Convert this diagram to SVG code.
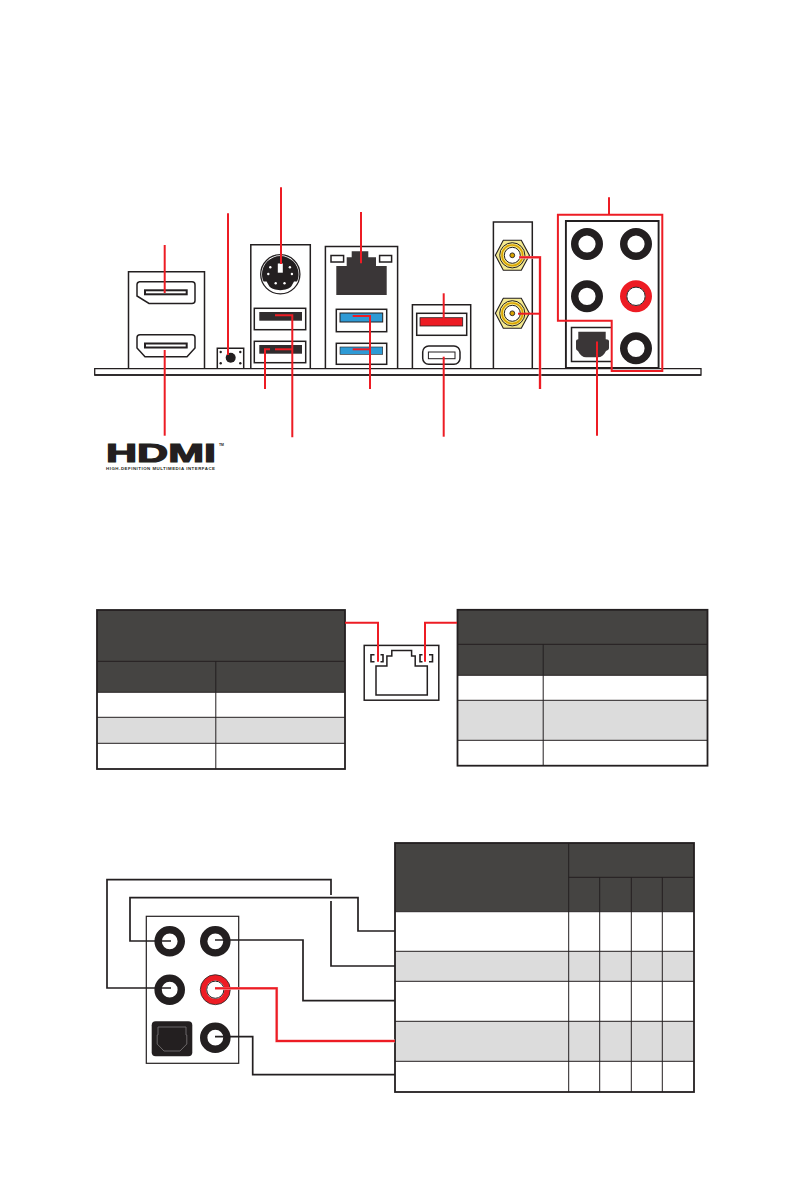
<svg xmlns="http://www.w3.org/2000/svg" width="794" height="1191" viewBox="0 0 794 1191">
<style>
.k{fill:none;stroke:#231f20;stroke-width:1.5}
.kf{fill:#fff;stroke:#231f20;stroke-width:1.5}
.slot{fill:#302c2d;stroke:none}
.r{fill:none;stroke:#ed1c24;stroke-width:2}
.rh{fill:none;stroke:#f6a6a8;stroke-width:2.8}
.c{fill:none;stroke:#231f20;stroke-width:1.7}
.hd{fill:#454442}
.gr{fill:#dcdcdc}
.ln{stroke:#231f20;stroke-width:1;fill:none}
.bd{fill:none;stroke:#231f20;stroke-width:1.8}
.hx{fill:#f3e98f;stroke:#231f20;stroke-width:1.1}
.gold{fill:none;stroke:#d9a400;stroke-width:1.7}
.pin{fill:#fff}
</style>
<rect width="794" height="1191" fill="#fff"/>

<g id="io-panel">
<path d="M94.7 368.6H701V375H94.7Z" fill="#fff" stroke="#231f20" stroke-width="1.3"/>
<path d="M94.7 375H701" stroke="#231f20" stroke-width="1.6" fill="none"/>
</g>

<g id="hdmi-dp">
<path class="k" d="M128.5 368V271.8H204.5V368"/>
<path class="k" d="M139.5 281.8H192a3 3 0 0 1 3 3V300.5a3 3 0 0 1-3 3H149L137 296V284.5a3 3 0 0 1 2.5-2.7Z"/>
<rect x="145" y="290.3" width="41.7" height="4" fill="#fff" stroke="#231f20" stroke-width="2"/>
<path class="k" d="M140 334.7H192a3 3 0 0 1 3 3V348L187 356.7H145L137 348V337.7a3 3 0 0 1 3-3Z"/>
<rect x="145" y="343.5" width="41.7" height="4" fill="#fff" stroke="#231f20" stroke-width="2"/>
</g>

<g id="clear-cmos">
<path class="k" d="M217.3 368V348.3H243.7V368" stroke-width="1"/>
<circle cx="230.7" cy="357.7" r="5" fill="#231f20"/>
<g fill="#231f20"><circle cx="220.7" cy="352" r="1.2"/><circle cx="240.3" cy="352" r="1.2"/><circle cx="220.7" cy="363.3" r="1.2"/><circle cx="240.3" cy="363.3" r="1.2"/></g>
</g>

<g id="ps2-usb">
<path class="k" d="M250.8 368V244.8H310.3V368"/>
<circle cx="280.3" cy="274.3" r="19.6" fill="#fff" stroke="#231f20" stroke-width="1.3"/>
<path d="M262 274.3A18 18 0 0 1 298.6 274.3C298.6 277 298 279.5 297 281.6L294 281.5L291.5 286C288 291.5 272.6 291.5 269.1 286L266.6 281.5L263.6 281.6C262.6 279.5 262 277 262 274.3Z" fill="#231f20"/>
<g class="pin"><circle cx="270.3" cy="267.3" r="1.2"/><circle cx="289.9" cy="267.3" r="1.2"/><circle cx="268.3" cy="274" r="1.2"/><circle cx="291.9" cy="274" r="1.2"/><circle cx="275.7" cy="283.3" r="1.2"/><circle cx="284.5" cy="283.3" r="1.2"/><rect x="277.8" y="263.5" width="5" height="9.2"/></g>
<rect class="kf" x="254.3" y="308.3" width="51.4" height="21.4"/>
<rect class="slot" x="259.3" y="312" width="42.7" height="8.7"/>
<rect class="kf" x="254.3" y="341.3" width="51.4" height="21.4"/>
<rect class="slot" x="259.3" y="345" width="42.7" height="8.7"/>
</g>

<g id="lan-usb3">
<path class="k" d="M325.4 368V246.4H397.6V368"/>
<path d="M336.3 295V266H346.7V257.3H351.7V251.3H368.3V257.3H376V266H386.7V295Z" fill="#3a3637"/>
<rect class="kf" x="331" y="255.5" width="12.6" height="6.5" stroke-width="1.2"/>
<rect class="kf" x="379.6" y="255.5" width="12" height="6.5" stroke-width="1.2"/>
<rect class="kf" x="336.3" y="309.3" width="50.4" height="22.4"/>
<rect x="340" y="313" width="42.7" height="9" fill="#2e9ad5" stroke="#231f20" stroke-width="1"/>
<rect class="kf" x="336.3" y="343.3" width="50.4" height="21" stroke-width="1.2"/>
<rect x="340" y="347" width="42.7" height="7.3" fill="#2e9ad5" stroke="#231f20" stroke-width=".6"/>
</g>

<g id="usb-a-c">
<path class="k" d="M412.4 368V304.8H470.7V368"/>
<rect class="kf" x="416.7" y="313.3" width="50" height="22"/>
<rect x="420" y="317.7" width="42.7" height="8.3" fill="#ed1c24" stroke="#231f20" stroke-width=".8"/>
<rect class="kf" x="422.7" y="346" width="37.3" height="18.3" rx="6"/>
<rect x="428.4" y="352" width="26.6" height="6.7" fill="#fff" stroke="#231f20" stroke-width="1"/>
</g>

<g id="antenna">
<path class="k" d="M493.4 368V222H532.3V368"/>
<g id="ant1"><path class="hx" d="M495.4 255.3L503.3 240.3H521.3L529.4 255.3L521.3 270.3H503.3Z"/><circle cx="512.3" cy="255.3" r="12.6" fill="#f3e98f" stroke="#231f20" stroke-width="1"/><circle class="gold" cx="512.3" cy="255.3" r="10.3"/><circle cx="512.3" cy="255.3" r="8" fill="#fff" stroke="#231f20" stroke-width="1"/><circle cx="512.3" cy="255.3" r="2.4" fill="#d9a400" stroke="#231f20" stroke-width=".9"/></g>
<g id="ant2"><path class="hx" d="M495.4 313.3L503.3 298.3H521.3L529.4 313.3L521.3 328.3H503.3Z"/><circle cx="512.3" cy="313.3" r="12.6" fill="#f3e98f" stroke="#231f20" stroke-width="1"/><circle class="gold" cx="512.3" cy="313.3" r="10.3"/><circle cx="512.3" cy="313.3" r="8" fill="#fff" stroke="#231f20" stroke-width="1"/><circle cx="512.3" cy="313.3" r="2.4" fill="#d9a400" stroke="#231f20" stroke-width=".9"/></g>
</g>

<g id="audio-panel">
<path d="M565.9 368V221H658.6V368Z" fill="none" stroke="#231f20" stroke-width="1.9"/>
<path class="k" d="M611.5 327.6H571.5V361.5H611.5" stroke-width="1.2"/>
<path d="M578.3 331.7H605.7V339.3C608 339.3 609 340 609 341.5V348C609 350 607 350 606 351C604 355 601 357.3 598 357.3H586C583 357.3 580 355 578 351C577 350 576 350 576 348V341.5C576 340 577 339.3 578.3 339.3Z" fill="#3a3637"/>
<g fill="#fff" stroke="#231f20" stroke-width="7.4">
<circle cx="587" cy="244" r="12.3"/><circle cx="636" cy="244" r="12.3"/><circle cx="587" cy="296.3" r="12.3"/><circle cx="636" cy="348.3" r="12.3"/>
</g>
<circle cx="636" cy="296.3" r="12.7" fill="#fff" stroke="#ed1c24" stroke-width="6.6"/>
<circle cx="636" cy="296.3" r="9.2" fill="#fff" stroke="#231f20" stroke-width="1"/>
</g>

<g id="hdmi-logo" fill="#231f20" font-family="'Liberation Sans',sans-serif" font-weight="700">
<text x="106" y="461.6" font-size="26.5" textLength="110" lengthAdjust="spacingAndGlyphs" stroke="#231f20" stroke-width="1.2">HDMI</text>
<text x="106" y="470" font-size="4.4" textLength="109" lengthAdjust="spacing">HIGH-DEFINITION MULTIMEDIA INTERFACE</text>
<text x="219" y="446" font-size="3.6" textLength="5" lengthAdjust="spacingAndGlyphs">TM</text>
</g>

<g id="lan-port">
<rect x="364.2" y="645.4" width="74.6" height="54.8" fill="#fff" stroke="#231f20" stroke-width="1.5"/>
<path d="M376 695V666H386.9V656H391.8V650.4H411.6V656H415.2V666H427.3V695Z" fill="#fff" stroke="#231f20" stroke-width="1.5"/>
<path d="M374.5 654.8H371V661.8H374.5M380.5 654.8H383V661.8H380.5" fill="none" stroke="#231f20" stroke-width="1.6"/>
<path d="M429 654.8H432.5V661.8H429M422.5 654.8H420V661.8H422.5" fill="none" stroke="#231f20" stroke-width="1.6"/>
</g>

<g id="led-table-left">
<rect class="hd" x="97" y="610" width="248" height="82"/>
<rect x="97" y="692" width="248" height="77" fill="#fff"/>
<rect class="gr" x="97" y="717.3" width="248" height="26"/>
<path class="ln" d="M97 661.3H345M97 692.3H345M97 717.3H345M97 743.3H345M215.8 661.3V769"/>
<rect class="bd" x="97" y="610" width="248" height="159"/>
</g>

<g id="led-table-right">
<rect class="hd" x="457.5" y="609.8" width="250" height="65.5"/>
<rect x="457.5" y="675.3" width="250" height="90.4" fill="#fff"/>
<rect class="gr" x="457.5" y="700.3" width="250" height="40"/>
<path class="ln" d="M457.5 644.3H707.5M457.5 675.3H707.5M457.5 700.3H707.5M457.5 740.3H707.5M543.2 644.3V765.7"/>
<rect class="bd" x="457.5" y="609.8" width="250" height="155.9"/>
</g>

<g id="audio-diagram">
<rect x="146.3" y="916.3" width="92.4" height="147" fill="#fff" stroke="#231f20" stroke-width="1.2"/>
<g fill="#fff" stroke="#231f20" stroke-width="7.4">
<circle cx="169.7" cy="941.3" r="11.6"/><circle cx="215.3" cy="941.3" r="11.6"/><circle cx="169.7" cy="989.7" r="11.6"/><circle cx="215.3" cy="1037.7" r="11.6"/>
</g>
<circle cx="215.3" cy="989.7" r="12" fill="#fff" stroke="#ed1c24" stroke-width="5.8"/>
<circle cx="215.3" cy="989.7" r="15" fill="none" stroke="#231f20" stroke-width=".8"/>
<circle cx="215.3" cy="989.7" r="8.6" fill="#fff" stroke="#231f20" stroke-width="1"/>
<rect x="151.7" y="1021.3" width="40.6" height="35" rx="4" fill="#231f20"/>
<path d="M158 1027H186V1035H186.8V1044L180 1051H164L157.2 1044V1035H158Z" fill="none" stroke="#6b6768" stroke-width="1"/>
</g>

<g id="audio-table">
<rect class="hd" x="395" y="843" width="299" height="68.7"/>
<rect x="395" y="911.7" width="299" height="180.3" fill="#fff"/>
<rect class="gr" x="395" y="951.3" width="299" height="30"/>
<rect class="gr" x="395" y="1021.3" width="299" height="40"/>
<path class="ln" d="M395 911.7H694M395 951.3H694M395 981.3H694M395 1021.3H694M395 1061.3H694M568.7 877.3H694M568.7 843V1092M599.7 877.3V1092M631.3 877.3V1092M662.3 877.3V1092"/>
<rect class="bd" x="395" y="843" width="299" height="249"/>
</g>

<g id="connectors">
<path class="r" d="M164.7 245V293"/>
<path class="r" d="M164.7 350V435.7"/>
<path class="r" d="M228 213.3V355"/>
<path class="r" d="M281 187.3V264"/>
<path class="r" d="M275 315.3H292.3V437.3"/>
<path class="r" d="M275 349.3H292.3"/>
<path class="r" d="M270 349.3H265V389"/>
<path class="r" d="M361 212V263.3"/>
<path class="r" d="M352.7 316H370V389"/>
<path class="r" d="M352.7 349.3H370"/>
<path class="r" d="M443.7 293.3V325"/>
<path class="r" d="M443.7 356.7V436.7"/>
<path class="rh" d="M519.3 257.3H540V389" stroke-width="2.8"/>
<path class="r" d="M519.3 257.3H540V389"/>
<path class="r" d="M518 313.7H540"/>
<path class="r" d="M609 197.3V214.7"/>
<path class="r" d="M557.9 214.8H662.3V371H611.7V320.7H557.9Z"/>
<path class="r" d="M597 341.5V435.7"/>
<path class="r" d="M345 622.7H378V661.7"/>
<path class="r" d="M457 622.7H425V661.7"/>
<path class="c" d="M171 988H107V879.7H331V966H395"/>
<path d="M331 895V901" stroke="#fff" stroke-width="3" fill="none"/>
<path class="c" d="M171 941H130V897.7H358V931H395"/>
<path class="c" d="M215 940H303V1000.7H395"/>
<path class="rh" d="M215 988.3H276.7V1041H395"/>
<path class="r" d="M215 988.3H276.7V1041H395"/>
<path class="c" d="M215 1036.7H252.7V1074.7H395"/>
</g>
</svg>
